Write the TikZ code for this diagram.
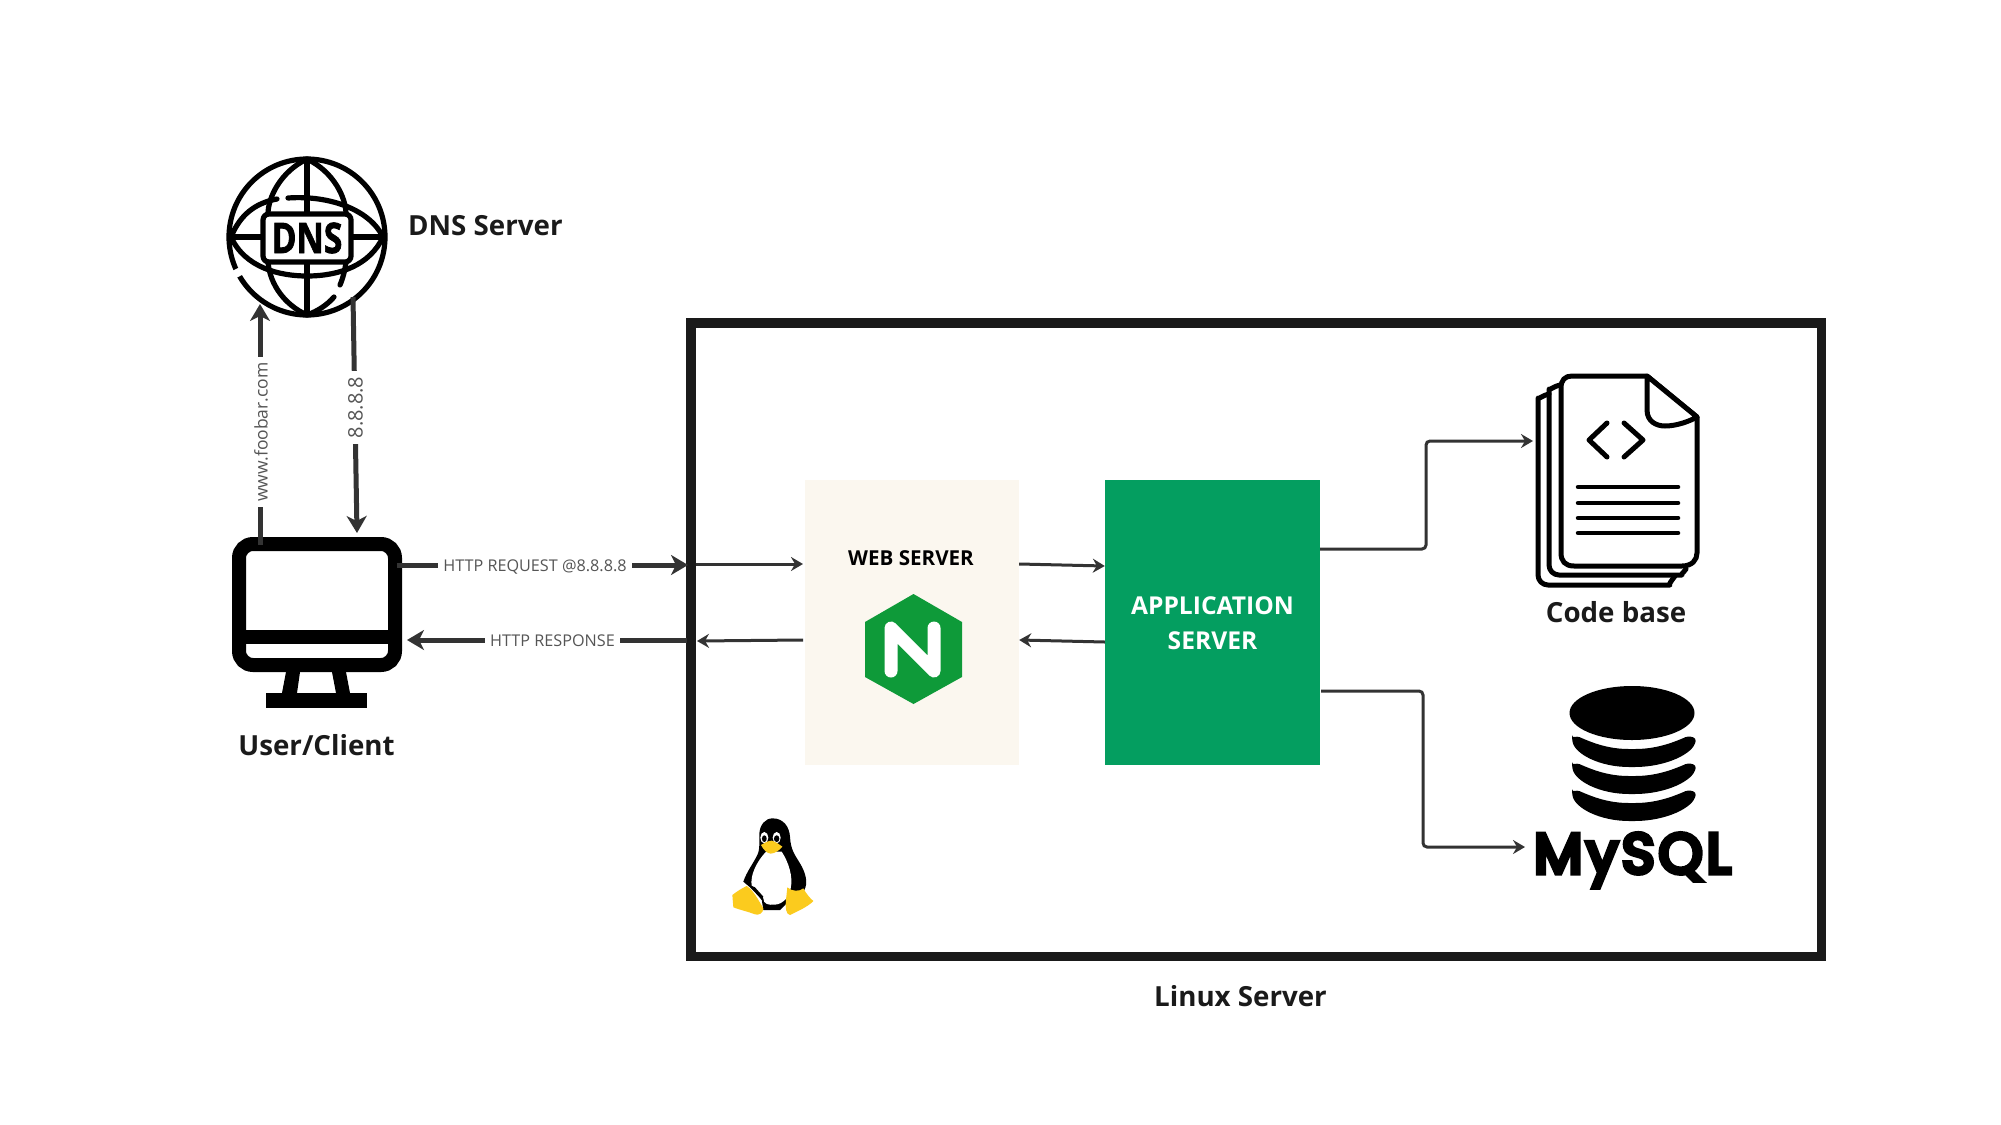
\documentclass[tikz,border=0pt]{standalone}
\usepackage{fontspec}
\setmainfont{Open Sans}
\newfontfamily\logofont[LetterSpace=7,FakeBold=9]{Poppins}
\newfontfamily\dnsfont[BoldFeatures={FakeBold=2}]{Open Sans}
\usetikzlibrary{arrows.meta}
\definecolor{ink}{HTML}{1A1A1A}
\definecolor{conn}{HTML}{333333}
\definecolor{lbl}{HTML}{555555}
\definecolor{webfill}{HTML}{FBF7EF}
\definecolor{appfill}{HTML}{049E60}
\definecolor{nginx}{HTML}{0E9A39}
\definecolor{tux}{HTML}{FBCB1E}
\tikzset{
  x=1pt,y=-1pt,
  heavy/.style={draw=conn,line width=5pt,-{Stealth[length=17pt,width=20pt,inset=5pt]}},
  light/.style={draw=conn,line width=3pt,-{Stealth[length=12pt,width=14pt,inset=4pt]},rounded corners=4pt},
  flowlabel/.style={fill=white,text=lbl,font=\fontsize{16.2}{20}\selectfont,inner ysep=1pt,inner xsep=5pt},
  vlabel/.style={flowlabel,rotate=90,font=\fontsize{17.5}{20}\selectfont},
  title/.style={text=ink,font=\fontsize{27.7}{32}\selectfont\bfseries,anchor=base,inner sep=0pt},
}
\begin{document}
\begin{tikzpicture}
\useasboundingbox (0,0) rectangle (2001,1124);
% Linux frame
\node[draw=ink,line width=9.5pt,minimum width=1130.5pt,minimum height=633.5pt,inner sep=0pt] (frame) at (1256.25,639.75) {};
% boxes
\node[fill=webfill,minimum width=214pt,minimum height=285pt,inner sep=0pt] (web) at (912,622.5) {};
\node[fill=appfill,minimum width=215pt,minimum height=285pt,inner sep=0pt] (app) at (1212.5,622.5) {};
\node[text=black,font=\fontsize{20.6}{24}\selectfont\bfseries,anchor=base,inner sep=0pt] (webtitle) at (911,565) {WEB SERVER};
\node[text=white,font=\fontsize{24.6}{34.5}\selectfont\bfseries,align=center,anchor=center,inner sep=0pt] (apptitle) at (1212.5,623) {APPLICATION\\SERVER};
% nginx
\fill[nginx] (913.5,594) -- (962,622) -- (962,677) -- (913.5,704) -- (865,677) -- (865,622) -- cycle;
\draw[white,line width=13pt,line cap=round,line join=round] (891,671) -- (891,628) -- (934,671) -- (934,628);
% DNS globe
\node[draw=black,line width=5.2pt,circle,minimum size=156pt,inner sep=0pt] (dns) at (307,237) {};
\draw[white,line width=8pt] (243,270) -- (232.3,275.4);
\begin{scope}[black,line width=5.2pt,line cap=round]
\draw (307,160) -- (307,215);
\draw (307,262) -- (307,314);
\draw (230,237) -- (262,237);
\draw (352,237) -- (384,237);
\draw (307,159) .. controls (280,172) and (268,198) .. (268,214);
\draw (307,159) .. controls (334,172) and (346,198) .. (346,214);
\draw (268,262) .. controls (270,285) and (285,305) .. (307,315);
\draw (346,262) .. controls (345,270) and (343,278) .. (340,285);
\draw (334,297) .. controls (327,305) and (318,311) .. (307,315);
\draw (231,237) .. controls (240,215) and (255,203) .. (277,199);
\draw (288,198) .. controls (330,195) and (370,210) .. (383,237);
\draw (231,237) .. controls (245,268) and (280,276) .. (307,276) .. controls (340,276) and (370,265) .. (383,237);
\end{scope}
\draw[black,line width=5.2pt,fill=white,rounded corners=6pt] (263,214) rectangle (351,262);
\node[text=black,font=\fontsize{42}{42}\selectfont\dnsfont\bfseries,xscale=0.8,inner sep=0pt] (dnstext) at (307,238) {DNS};
\node[title,anchor=base west] (dnslabel) at (408,235) {DNS Server};
% monitor
\draw[black,line width=14pt,rounded corners=14pt] (239,544) rectangle (395,665);
\fill[black] (239,630) rectangle (395,644);
\fill[black] (286,672) -- (300,672) -- (297,693) -- (282,693) -- cycle;
\fill[black] (332,672) -- (346,672) -- (350,693) -- (336,693) -- cycle;
\fill[black] (266,693) rectangle (367,708);
\node[title] (userlabel) at (316.5,755) {User/Client};
% connectors: DNS and client
\coordinate (cA) at (260,545);
\coordinate (cB) at (260,304);
\coordinate (cC) at (353,297);
\coordinate (cD) at (357,533);
\coordinate (cE) at (397,565);
\coordinate (cF) at (688,565);
\coordinate (cG) at (687,640);
\coordinate (cH) at (407,640);
\draw[heavy] (cA) -- (cB);
\draw[heavy] (cC) -- (cD);
\draw[heavy] (cE) -- (cF);
\draw[heavy] (cG) -- (cH);
\node[vlabel] (lfoo) at (261,432) {www.foobar.com};
\node[vlabel,font=\fontsize{20}{22}\selectfont,inner xsep=6pt] (ldns) at (355.5,407.5) {8.8.8.8};
\node[flowlabel] (lreq) at (535,567) {HTTP REQUEST @8.8.8.8};
\node[flowlabel] (lres) at (552.5,641) {HTTP RESPONSE};
% connectors: server
\coordinate (cI) at (696,564);
\coordinate (cJ) at (803,564);
\coordinate (cK) at (803,640);
\coordinate (cL) at (697,641);
\draw[light] (cI) -- (cJ);
\draw[light] (cK) -- (cL);
\draw[light] (web.east |- 0,564) -- (app.west |- 0,566);
\draw[light] (app.west |- 0,642) -- (web.east |- 0,640);
\coordinate (cM) at (1426,441);
\coordinate (cN) at (1533,441);
\coordinate (cO) at (1525,847);
\draw[light] (app.east |- 0,549) -| (cM) -- (cN);
\draw[light] (1321,691) -- (1423,691) -- (1423,847) -- (cO);
% code base icon
\begin{scope}[black,line width=5pt,line join=round,line cap=round,rounded corners=10pt]
\draw (1549,394) .. controls (1541,396) and (1538,400) .. (1538,408) -- (1538,585) -- (1660,585) .. controls (1668,585) and (1672,580) .. (1675,576);
\draw (1560,385) .. controls (1552,387) and (1549,391) .. (1549,399) -- (1549,575) -- (1672,575) .. controls (1680,575) and (1684,572) .. (1686,569);
\end{scope}
\begin{scope}[line width=5pt,line join=round,line cap=round]
\draw[black,fill=white] (1647,376) -- (1572,376) .. controls (1565,376) and (1561,380) .. (1561,388) -- (1561,553) .. controls (1561,561) and (1565,566) .. (1574,566) -- (1682,566) .. controls (1692,566) and (1697,560) .. (1697,553) -- (1697,417) -- cycle;
\draw[black,fill=white] (1647,376) -- (1647,410) .. controls (1647,422) and (1657,426) .. (1665,426) .. controls (1677,426) and (1690,421) .. (1697,417) -- cycle;
\draw[black] (1607,423) -- (1589,440) -- (1607,457);
\draw[black] (1624,423) -- (1643,440) -- (1624,457);
\draw[black,line width=4.5pt] (1578,487) -- (1678,487);
\draw[black,line width=4.5pt] (1578,503) -- (1678,503);
\draw[black,line width=4.5pt] (1578,518) -- (1678,518);
\draw[black,line width=4.5pt] (1578,533) -- (1678,533);
\end{scope}
\node[title] (codelabel) at (1616,622) {Code base};
% database
\fill[black] (1632,713) ellipse [x radius=62.5pt,y radius=27pt];
\foreach \yy in {738,765,792}{
  \fill[black,rounded corners=3pt] (1572,\yy) -- (1577,\yy-2) .. controls (1595,\yy+6) and (1610,\yy+11) .. (1632,\yy+11) .. controls (1654,\yy+11) and (1670,\yy+6) .. (1688,\yy-2) -- (1696,\yy) .. controls (1694,\yy+16) and (1665,\yy+29) .. (1632,\yy+29) .. controls (1600,\yy+29) and (1574,\yy+16) .. (1572,\yy) -- cycle;
}
\node[text=black,font=\fontsize{56}{60}\selectfont\logofont,anchor=base,inner sep=0pt] (mysql) at (1632.5,873) {MySQL};
% tux
\begin{scope}[shift={(700,800)},x=0.3333pt,y=-0.3333pt]
\fill[black] (218,55) .. controls (250,55) and (268,80) .. (270,110) .. controls (272,150) and (285,165) .. (300,190) .. controls (318,220) and (325,250) .. (312,272) -- (290,280) -- (240,330) -- (190,330) -- (185,298) -- (150,262) -- (130,245) .. controls (140,215) and (160,190) .. (172,165) .. controls (180,150) and (178,120) .. (178,100) .. controls (180,75) and (195,55) .. (218,55) -- cycle;
\fill[white] (198,155) -- (245,155) .. controls (265,185) and (280,230) .. (272,265) .. controls (268,290) and (250,312) .. (225,314) .. controls (205,316) and (190,312) .. (190,295) -- (155,258) .. controls (150,225) and (170,185) .. (198,155) -- cycle;
\fill[black] (150,255) -- (165,262) -- (190,290) -- (185,300) -- cycle;
\fill[tux] (97,285) .. controls (110,275) and (125,265) .. (140,258) .. controls (160,270) and (175,300) .. (190,325) .. controls (190,340) and (175,347) .. (165,343) .. controls (145,335) and (120,330) .. (100,322) -- cycle;
\fill[tux] (262,262) .. controls (275,275) and (300,275) .. (310,265) .. controls (318,280) and (330,295) .. (340,303) .. controls (325,320) and (290,335) .. (270,345) .. controls (258,345) and (255,320) .. (258,300) -- cycle;
\fill[white] (193,113) ellipse [x radius=4pt,y radius=5.7pt];
\fill[white] (230,113) ellipse [x radius=4pt,y radius=5.7pt];
\fill[black] (193,116) ellipse [x radius=2.4pt,y radius=3.4pt];
\fill[black] (230,116) ellipse [x radius=2.7pt,y radius=3.4pt];
\fill[tux] (183,135) .. controls (195,128) and (205,122) .. (215,122) .. controls (228,125) and (240,135) .. (247,140) .. controls (240,150) and (225,160) .. (212,161) .. controls (200,160) and (190,148) .. (183,135) -- cycle;
\end{scope}
\node[title] (linuxlabel) at (1240.5,1006) {Linux Server};
\end{tikzpicture}
\end{document}
